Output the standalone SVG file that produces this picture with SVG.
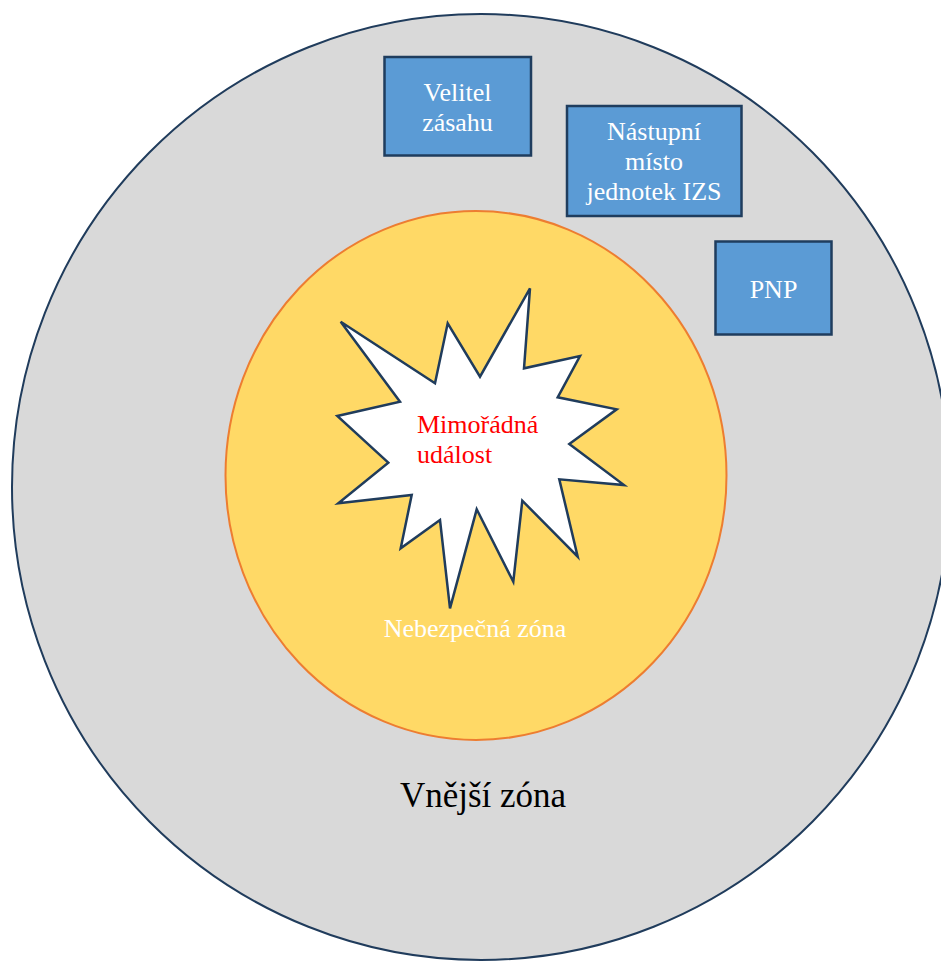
<svg xmlns="http://www.w3.org/2000/svg" width="941" height="962" viewBox="0 0 941 962">
<style>
.box{fill:#5B9BD5;stroke:#1F3D5E;stroke-width:2.5}
.t{font-family:"Liberation Serif","Times New Roman",serif;font-size:26px}
.w{fill:#FFFFFF}
</style>
<rect width="941" height="962" fill="#FFFFFF"/>
<g id="outer-zone">
<ellipse cx="481" cy="487" rx="469" ry="473" fill="#D9D9D9" stroke="#203C5C" stroke-width="2"/>
<text class="t" x="483" y="807" text-anchor="middle" style="font-size:35px" fill="#000000">Vnější zóna</text>
</g>
<g id="danger-zone">
<ellipse cx="476" cy="475.5" rx="250.5" ry="264.5" fill="#FFD966" stroke="#ED7D31" stroke-width="2"/>
<text class="t w" x="475" y="637" text-anchor="middle">Nebezpečná zóna</text>
</g>
<g id="event">
<polygon points="340.7,321.7 435,383.3 447.7,323.3 480,376.7 530,288.3 524,368.3 580,356 557.7,397.3 616.7,409.3 569.3,444 624,485 559.3,479.3 577.7,556.7 522.3,500.7 513.3,581.7 476.7,509.3 450,608.3 440,520 400.7,548.3 411.7,495 338.3,503.3 388.3,462.7 337.3,416 400,401.7" fill="#FFFFFF" stroke="#203C5C" stroke-width="2.5" stroke-linejoin="miter"/>
<text class="t" x="417" y="433" fill="#FF0000">Mimořádná</text>
<text class="t" x="417" y="463" fill="#FF0000">událost</text>
</g>
<g id="velitel">
<rect class="box" x="384.5" y="57" width="146.5" height="98.5"/>
<text class="t w" x="457.5" y="101" text-anchor="middle">Velitel</text>
<text class="t w" x="457.5" y="131" text-anchor="middle">zásahu</text>
</g>
<g id="nastupni">
<rect class="box" x="567" y="106" width="174.5" height="110"/>
<text class="t w" x="654" y="140" text-anchor="middle">Nástupní</text>
<text class="t w" x="654" y="170" text-anchor="middle">místo</text>
<text class="t w" x="654" y="200" text-anchor="middle">jednotek IZS</text>
</g>
<g id="pnp">
<rect class="box" x="715.5" y="241.5" width="116" height="93"/>
<text class="t w" x="773.5" y="298" text-anchor="middle">PNP</text>
</g>
<g id="connectors"/>
</svg>
